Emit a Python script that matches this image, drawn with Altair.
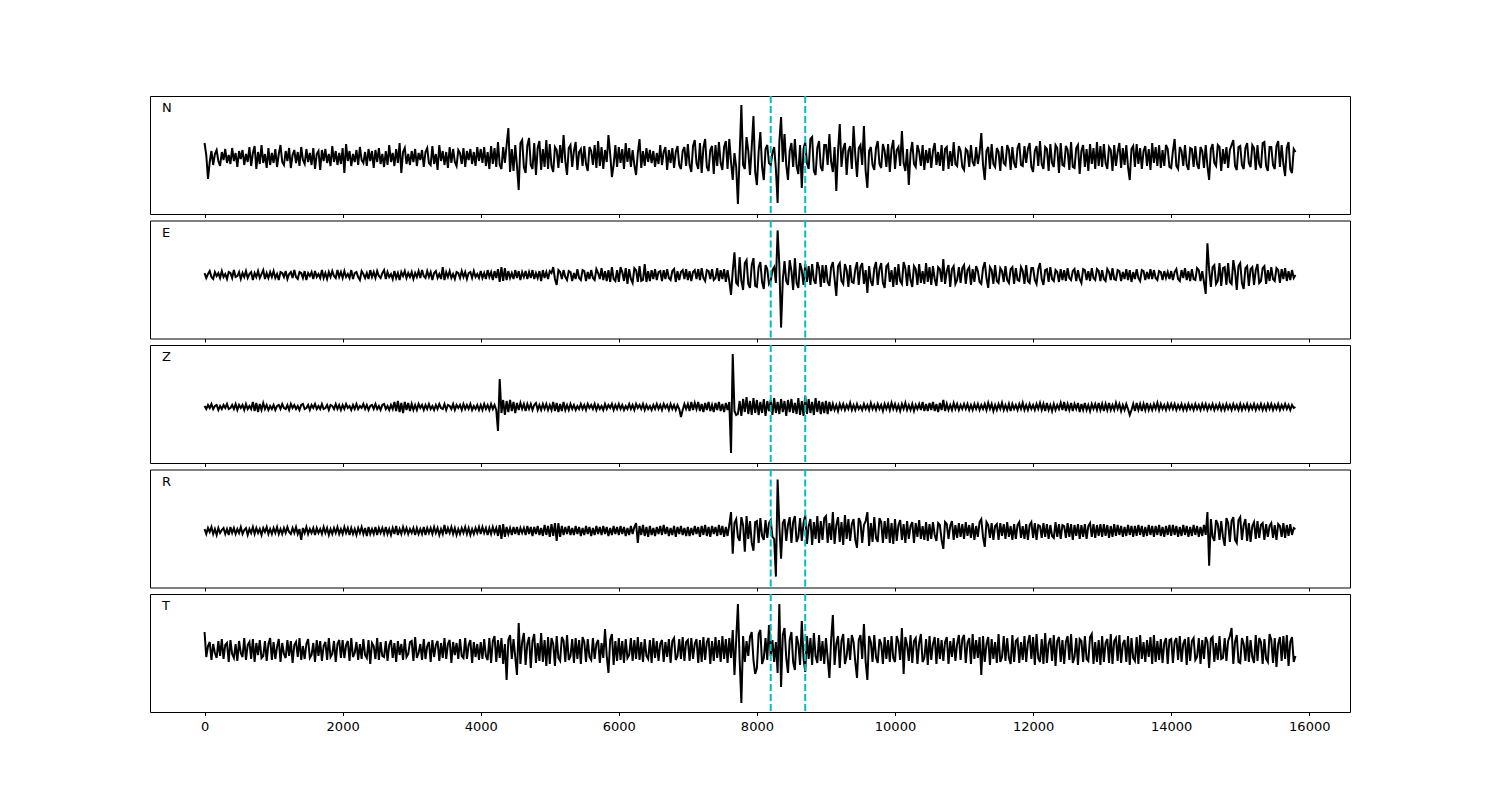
import altair as alt
import pandas as pd

STEP = 25  # sample spacing (in x units) of the listed values; each row covers 1000 units

N_ROWS = [
    [14, 2, -22, -5, 6, -8, 3, 7, -4, -9, 5, -3, 8, -6, 2, -7, 9, -4, 4, -10, 6, -2, 7, -8, 3, -5, 10, -9, 4, 11, -12, 5, -7, 12, -6, 3, -11, 9, -8, 4],
    [-6, 8, -10, 3, 12, -5, -8, 6, -4, 9, -11, 2, 7, -6, 5, -9, 10, -3, -7, 8, -5, 4, -8, 9, -12, 3, 6, -13, 7, -4, 8, -6, 3, -9, 11, -5, 6, -8, 4, -7],
    [9, -16, 13, -4, 6, -9, 3, -5, 7, -8, 10, -3, -6, 5, -9, 8, -4, 6, -11, 7, -5, 9, -7, 3, -10, 6, -8, 12, -5, 4, -9, 8, -6, 14, -16, 5, 9, -7, 3, -8],
    [6, -5, 8, -9, 4, -3, 7, -10, 5, 9, -6, -8, 11, -7, 3, -13, 12, -4, 6, -8, 5, -11, 10, -6, 8, -5, -9, 7, 4, -7, 9, -10, 6, -3, 8, -7, 5, -9, 10, -4],
    [8, -6, 10, -9, 5, -12, 11, -7, 9, -10, 15, -8, -12, 10, -6, 12, 29, -15, 8, -14, 12, -9, -33, 14, 17, -10, -16, 11, 19, -8, -12, 14, -18, 9, 16, -13, 8, -10, 17, -12],
    [13, -9, -15, 10, 7, -11, 12, -6, 22, -4, -18, 9, 12, -10, 6, 15, -13, 5, 8, -9, 11, -7, -14, 10, 6, -8, 12, -11, 16, -9, 10, -12, 7, -5, 22, 3, -20, -8, 12, -10],
    [10, -6, 8, -12, 14, -5, 9, -10, 7, -8, -18, 4, 18, -11, 6, -9, 9, -5, 7, -6, 6, -10, 4, -7, 12, -8, 5, 10, -13, 7, -6, 9, -11, 5, 11, -8, -12, 6, 10, -9],
    [13, -8, -15, 11, 17, -6, -12, 14, -16, 9, 18, -10, -14, 7, 11, -17, 12, -9, 15, -6, -13, 10, 16, -12, 18, -5, -23, 4, -10, -47, 2, 52, -8, -12, 20, 6, -18, 10, 41, -15],
    [-28, 5, 25, -10, -23, 8, 12, -6, -8, 4, 10, -12, -46, 15, 40, -5, 23, -8, -23, 6, 14, -10, 18, -9, -17, 12, -31, 8, 15, -6, -12, 18, 20, -14, -18, 9, 16, -10, -14, 12],
    [12, -8, 23, -5, -15, 10, -34, 6, 33, -10, 8, 14, -18, 6, 11, -12, 31, 2, -20, 9, 12, -8, 31, -14, -31, 6, 10, -8, -13, 9, 16, -7, -11, 13, 6, -10, 13, -15, 8, 17],
    [-12, 7, 10, -9, 26, -6, -14, 8, -28, 4, 15, -7, -10, 12, 5, -9, 12, -13, 7, -6, 9, -11, 6, 14, -8, 5, -9, 12, -14, 8, 10, -12, 6, -9, 15, -7, -9, 11, 6, -10],
    [-13, 8, 6, -10, 12, -5, -9, 10, -7, 4, 24, -8, -23, 6, 10, -12, 13, -7, -10, 9, 5, -14, 11, -6, -8, 12, 7, -13, 10, -6, -11, 9, 14, -8, -9, 11, -6, 8, 14, -10],
    [-15, 6, 11, -9, 16, -7, -12, 10, 8, -14, 13, -6, -10, 12, 9, -16, 14, -8, -9, 11, 7, -13, 15, -10, -11, 9, 12, -17, 6, 12, -10, 8, -14, 13, -7, 9, -12, 15, -9, 11],
    [-10, 13, -6, -12, 10, 7, -14, 12, -9, 5, 14, -11, 9, -8, 12, -10, -23, 8, 11, -10, 13, -7, 9, -12, 6, 11, -9, 8, -13, 14, -6, 10, -9, 12, -11, 7, -9, 12, 8, -10],
    [-11, 6, 18, -9, -12, 10, 6, -9, 12, -8, -13, 9, 8, -10, 11, -7, -12, 10, 6, -11, 12, -9, -23, 8, 13, -6, -9, 12, 10, -14, 8, -7, 10, -11, 7, 12, 17, -9, -13, 10],
    [11, -8, -12, 9, 14, -6, -10, 12, 9, -13, 12, -7, -11, 14, 15, -9, -14, 10, 10, -8, -12, 11, 16, -10, 12, -7, -19, 9, 15, -12, -16, 8, 5],
]

E_ROWS = [
    [2, -3, 1, 4, -2, -4, 3, -1, 2, -3, 4, -2, 1, -4, 3, 2, -3, 5, -2, -1, 3, -4, 2, -2, 4, -3, 1, 3, -5, 2, -2, 4, -3, 1, 5, -4, 2, -3, 3, -2],
    [4, -3, 1, -5, 3, 2, -2, 4, -4, 1, 3, -3, 5, -2, -4, 3, 2, -3, 4, -5, 2, -1, 3, -4, 4, -2, 1, -3, 5, -3, 2, -4, 3, -2, 4, -1, -3, 5, -2, 3],
    [-3, 4, -2, 1, -3, 5, -4, 2, 3, -2, -5, 4, 1, -3, 2, -4, 5, -2, 3, -3, 4, -1, -3, 2, 5, -4, 3, -2, 1, -4, 4, -3, 2, -5, 3, -1, 4, -3, 2, -2],
    [3, -4, 2, -2, 4, -3, 5, -1, -3, 4, -2, 3, -5, 2, 4, -3, 1, -4, 8, -5, 3, -2, 4, -3, 1, -4, 3, 2, -3, 4, -2, 3, -4, 2, 3, -3, 4, -2, 1, -3],
    [4, -3, 2, -4, 5, -2, 3, -5, 4, -3, 6, -7, 8, -6, 7, -5, 4, -3, 2, -4, 5, -3, 4, -5, 3, -2, 4, -4, 3, -3, 5, -4, 2, -3, 4, -6, 5, -3, 3, -4],
    [4, 2, 8, -4, -10, 5, 3, -4, 5, -2, -5, 4, 3, -6, 2, -4, 6, -3, -5, 5, 4, -6, 3, -4, 5, -3, -5, 6, 2, -4, 7, -5, 4, -6, 5, -7, 8, -4, -6, 5],
    [-7, 8, 3, -6, 7, -9, 6, -4, -8, 7, 5, -7, 9, -6, -5, 11, -7, 4, -6, 5, -4, 6, -5, 3, 4, -6, 5, -4, 6, -3, -5, 4, 6, -7, 4, -5, 3, 5, -4, 6],
    [-5, 4, -6, 3, 5, -4, 6, -5, 7, -3, -6, 5, 4, -4, 6, -5, -3, 7, -6, 5, -4, 6, -7, 5, -6, -20, 4, 23, -8, -10, 18, -6, -15, 12, 15, -9, -13, 10, 17, -11],
    [-12, 8, 13, -7, -14, 10, 6, -9, -6, 5, 8, -8, 45, 10, -53, -5, 14, -6, -10, 15, 4, -15, 17, -8, -13, 12, 5, -10, 11, -7, 9, -10, 11, -5, -9, 13, 7, -12, 10, -8],
    [10, -7, -11, 8, 13, -4, -21, 9, 12, -6, -9, 11, 5, -12, 10, -7, -8, 6, 13, -10, 8, 12, -9, 5, -18, 9, -6, -11, 7, 13, -10, 6, 12, -8, -13, 9, 11, -7, 5, -12],
    [8, -10, 11, -6, -9, 13, 7, -11, 10, -5, -12, 9, 6, -10, 11, -8, 4, -9, 12, -7, 8, -10, 9, -4, -11, 8, 6, -7, 16, -9, 4, 10, -12, 6, 9, -9, -5, 8, -8, 7],
    [10, -9, 5, 8, -10, 6, -7, 9, 4, -7, -9, 7, 13, -3, -13, 8, 5, -9, 10, -6, -8, 7, 4, -7, 9, -5, -8, 6, 8, -9, 7, -5, -6, 8, 4, -9, 10, -6, -8, 7],
    [7, -5, -9, 6, 12, -4, -10, 5, 6, -7, 8, -4, -6, 5, 3, -7, 6, -5, 5, -6, 7, -3, -5, 4, 6, -6, 5, -4, -8, 6, 5, -5, 4, -6, 7, -3, -5, 6, 4, -6],
    [5, -4, -6, 6, 3, -5, 7, -4, -5, 5, 4, -6, 3, -4, 6, -5, 5, -7, 3, -4, 6, -3, -6, 5, 4, -5, 3, -4, 6, -4, 5, -3, -5, 4, 3, -5, 4, -3, 3, -4],
    [4, -5, 3, 6, -4, -6, 5, -3, 7, -5, 4, -6, 6, -4, -5, 7, 5, -6, 4, -7, -19, 32, 5, -12, 8, 10, -9, -6, 12, -11, 7, 8, -10, 12, -7, -9, 15, 4, -15, 9],
    [12, -8, -14, 7, 9, -11, 6, 8, -10, 5, 11, -8, -6, 7, 9, -9, 5, -6, 8, -4, -6, 7, 5, -8, 6, -4, 7, -6, 4, -5, 5, -3, 0],
]

Z_ROWS = [
    [1, -2, 2, -1, 3, -2, 1, 2, -3, 1, -2, 2, -1, 3, -2, -1, 2, -2, 3, -3, 2, -1, 2, -3, 3, -2, 1, -2, 5, -4, 4, -5, 3, -3, 4, -2, 2, -3, 1, -2],
    [2, -3, 1, 2, -2, 3, -1, -2, 2, -3, 3, -1, 2, -2, 1, -3, 2, 3, -2, -1, 2, -3, 2, -1, 3, -2, 1, -2, 3, -2, -1, 2, -3, 2, 1, -2, 3, -2, 2, -3],
    [2, -2, 3, -1, 1, -3, 2, -2, 3, -2, 1, -1, 3, -2, 2, -3, 1, 2, -2, 3, -2, 1, -3, 2, 3, -2, 1, -3, 2, -2, 5, -4, 6, -5, 4, -6, 5, -3, 4, -4],
    [3, -3, 2, -3, 3, -1, 2, -3, 2, -2, 3, -2, 1, -3, 2, -2, 3, -1, -2, 3, -3, 2, 1, -2, 3, -3, 2, -1, 2, -3, 3, -2, 2, -2, 3, -3, 1, -2, 2, -3],
    [2, -3, 3, -2, 2, -3, 3, -2, 2, -3, -24, 28, -6, 7, -8, 6, -5, 7, -4, 5, -6, 4, -3, 4, -2, 3, -4, 3, -2, 3, -3, 2, 4, -3, 2, -3, 3, -2, 3, -3],
    [2, -3, 5, -4, 4, -5, 3, -4, 5, -3, 2, -3, 3, -2, 2, -3, 1, -2, 3, -2, 2, -3, 3, -1, 2, -2, 3, -3, 2, -2, 1, -3, 3, -2, 2, -1, 3, -3, 2, -2],
    [3, -2, 2, -3, 1, -2, 3, -2, 2, -3, 3, -1, 2, -2, 3, -3, 2, -2, 1, -3, 2, -2, 3, -2, 2, -3, 3, -1, 2, -3, 3, -2, 2, -3, 2, -2, -10, -3, 3, -2],
    [3, -4, 5, -3, 4, -2, 5, -4, 3, -5, 4, -3, 5, -4, 2, -5, 4, -3, 5, -4, 3, -5, 4, -3, 5, -46, 53, -4, -8, -7, 6, -9, 8, -5, 10, -7, 6, -8, 9, -6],
    [7, -8, 5, -6, 8, -9, 6, -4, 7, -8, 9, -6, 5, -7, 8, -5, 6, -9, 7, -5, 8, -6, 4, -7, 9, -8, 6, -9, 11, -7, 8, -6, 5, -8, 9, -5, 6, -7, 5, -6],
    [6, -7, 5, -4, 3, -3, 2, -4, 3, -2, 3, -3, 2, -2, 4, -3, 2, -3, 3, -2, 1, -3, 3, -2, 2, -3, 4, -2, 2, -3, 3, -2, 2, -4, 3, -2, 3, -3, 4, -2],
    [3, -3, 2, -4, 3, -2, 4, -3, 2, -3, 3, -4, 2, -2, 3, -3, 5, -4, 3, -4, 4, -3, 5, -4, 3, -5, 4, -3, 7, -4, 3, -3, 2, -3, 4, -2, 3, -3, 2, -2],
    [3, -2, 3, -3, 2, -3, 3, -2, 3, -3, 2, -2, 3, -3, 4, -2, 3, -4, 2, -3, 3, -2, 4, -3, 2, -3, 3, -4, 3, -2, 2, -3, 3, -2, 4, -3, 2, -3, 3, -2],
    [2, -3, 3, -2, 4, -3, 3, -4, 4, -3, 2, -4, 3, -3, 2, -2, 4, -3, 5, -4, 3, -3, 4, -4, 3, -2, 4, -5, 3, -3, 4, -3, 2, -4, 3, -2, 3, -3, 4, -3],
    [3, -4, 3, -3, 4, -3, 2, -3, 4, -2, 3, -4, 2, -3, 3, -2, -8, -3, 3, -4, 4, -3, 3, -4, 3, -3, 4, -3, 2, -3, 3, -2, 4, -3, 3, -2, 2, -3, 3, -2],
    [3, -2, 3, -3, 2, -2, 3, -3, 2, -3, 3, -2, 2, -3, 3, -2, 2, -3, 3, -2, 3, -3, 2, -2, 3, -3, 2, -2, 3, -3, 2, -3, 3, -2, 2, -3, 3, -2, 2, -3],
    [3, -3, 2, -2, 3, -3, 2, -2, 3, -3, 2, -2, 3, -3, 2, -3, 3, -2, 3, -3, 2, -2, 3, -3, 2, -2, 3, -2, 2, -3, 2, -1, 0],
]

R_ROWS = [
    [2, -3, 3, -1, 4, -3, 2, -4, 3, -2, 1, 3, -3, 2, -4, 4, -2, 3, -3, 2, -2, 4, -3, 1, 3, -4, 2, -2, 4, -3, 3, -2, 2, -4, 3, -1, 4, -3, 2, -3],
    [3, -2, 4, -3, 2, -3, 3, -2, 4, -1, -3, 3, -2, 4, -3, 2, -9, 3, -2, 4, -3, 2, -2, 3, -4, 3, -2, 2, -3, 4, -2, 3, -4, 2, -3, 3, -2, 4, -3, 2],
    [-3, 4, -2, 3, -4, 3, -3, 2, -4, 3, -2, 4, -3, 3, -5, 4, -3, 2, -3, 4, -4, 3, -2, 3, -3, 4, -3, 2, -4, 3, -3, 5, -4, 2, -3, 4, -2, 3, -3, 2],
    [-2, 3, -4, 3, -3, 2, -3, 4, -4, 3, -2, 3, -3, 4, -2, 3, -4, 2, -3, 6, -3, 3, -2, 4, -3, 3, -4, 2, -3, 3, -2, 4, -3, 3, -4, 2, -3, 3, -2, 4],
    [-3, 4, -2, 3, -4, 3, -3, 4, -2, 3, -5, 6, -8, 7, -6, 4, -3, 3, -4, 4, -3, 4, -4, 3, -2, 3, -4, 5, -3, 4, -5, 4, -3, 5, -4, 3, -5, 6, -4, 5],
    [-6, 7, -5, 8, -10, 8, -6, 5, -4, 4, -3, 5, -4, 3, -4, 5, -3, 4, -5, 3, -4, 5, -3, 4, -5, 3, -4, 5, -3, 4, -4, 5, -3, 4, -5, 3, -4, 5, -3, 4],
    [-4, 5, -3, 4, -5, 3, -4, 5, -3, 4, 8, -12, 5, -4, 6, -5, 4, -6, 5, -4, 3, -5, 4, -3, 5, -4, 6, -3, 4, -5, 3, -4, 5, -6, 4, -3, 5, -4, 3, -5],
    [4, -5, 3, -4, 5, -3, 4, -6, 5, -4, 6, -5, 4, -6, 5, -3, 4, -5, 6, -4, 5, -6, 4, -5, 6, 19, -23, 8, 12, -6, -10, 14, 6, -21, 15, -8, 10, -12, -20, 9],
    [10, -12, 13, -5, -9, 11, -7, 8, 11, -6, -8, -46, 52, 5, -28, 8, 12, -10, 6, 14, -12, 9, 15, -11, -6, 13, -10, 8, 16, -13, 5, 12, -14, 9, -8, 15, -12, 10, -9, 13],
    [15, -12, 8, -9, 19, -13, 6, 14, -11, 9, -14, 16, -8, 12, -10, 7, 12, -9, -17, 13, 9, -12, 6, 10, 19, -15, 8, -11, 14, -7, -11, 13, 9, -12, 10, -8, 13, -12, 8, -13],
    [12, -10, 6, 11, -9, 7, -12, 10, -8, 5, 9, -12, 8, -6, 11, -8, 5, -9, 9, -10, 7, -8, 9, -4, -10, 8, 6, -9, -18, 9, 7, -8, 5, 10, -9, 6, -7, 8, -6, 7],
    [-8, 9, -5, 6, -7, 8, -9, 5, -6, 9, 12, -6, -16, 9, 6, -7, 8, -9, 5, 7, -9, 8, -5, 7, -8, 9, -6, 5, -9, 7, -8, 6, 9, -7, 5, -8, 7, -9, 6, 9],
    [-7, 8, -9, 6, 5, -7, 8, -6, 7, -8, 6, -5, -7, 9, -6, 7, -8, 6, 5, -7, 8, -6, 7, -9, 6, -5, 7, -8, 6, -6, 7, -8, 5, 8, -6, 7, -7, 6, -5, 7],
    [-6, 7, -5, 6, -7, 5, -6, 7, -5, 6, -4, 5, -6, 4, -5, 6, -4, 5, -6, 5, -5, 6, -4, 5, -6, 4, -5, 6, -4, 5, -6, 5, -4, 6, -5, 4, -6, 5, -4, 6],
    [-5, 6, -4, 5, -6, 4, -5, 6, -4, 5, -6, 4, -5, 6, -4, 5, -6, 4, -5, 6, -4, 19, -35, 12, -6, -10, 11, 7, -9, 10, -6, -15, 13, 8, -11, 10, 14, -9, -12, 11],
    [14, -9, 6, 12, -10, 8, -11, 5, 9, -8, 10, -7, 6, 8, -9, 7, -6, 5, 8, -7, 6, -9, 7, 5, -6, 8, -7, 6, -5, 7, -4, 3, 2],
]

T_ROWS = [
    [18, -7, 4, 8, -10, 6, -3, -8, 9, -6, 11, -9, 5, 7, -12, 10, -4, -8, 6, -11, 9, -3, -7, 12, -10, 5, 8, -9, 11, -12, 7, -5, 10, -8, -6, 9, -11, 6, 12, -10],
    [8, -9, 3, 11, -12, 7, -4, -8, 10, -6, 9, -13, 5, 8, -7, 12, -10, 4, -9, 6, 11, -8, -5, 7, -12, 10, -6, 9, -11, 4, 8, -10, 12, -7, -4, 9, -12, 6, 10, -8],
    [10, -8, 5, 9, -11, 12, -7, -3, 8, -10, 6, -9, 11, -5, -8, 10, -14, 7, 4, -9, 12, -10, 8, -6, -7, 9, -11, 5, 10, -8, 7, -12, 9, -5, 6, -10, 11, -7, -4, 8],
    [9, -11, 13, -8, -3, 6, -10, 11, -9, 4, 8, -12, 10, -7, 5, 9, -11, 7, -8, 12, -9, 6, 10, -13, 8, -5, 7, -9, 11, -6, -8, 12, -9, 5, 10, -13, 8, -7, 6, -10],
    [8, -9, 11, -6, -10, 12, -13, 9, 14, -12, 10, -8, 12, -14, 6, -30, 10, 15, -9, 11, -7, -25, 27, -14, 8, 17, -15, 6, 13, -18, 9, 16, -13, 7, -11, 17, -12, 10, -16, 13],
    [-14, 12, 6, -16, 14, -8, -11, 13, 9, -12, 15, -10, -6, 11, -13, 12, -9, 10, -14, 13, 8, -12, 11, -7, -10, 12, -9, 6, 10, -13, 7, -8, 21, -6, -23, 10, 16, -15, 9, -11],
    [12, -10, 9, -13, 11, -8, -5, 12, -11, 10, -9, 13, -10, 8, -12, 11, -6, -9, 10, -13, 12, -8, 9, -11, 6, 10, -12, 8, -7, 11, -13, 9, 12, -10, -6, 11, -9, 13, -11, 8],
    [10, -11, 12, -9, 6, 11, -13, 10, -12, 13, -10, 8, 12, -14, 9, -11, 13, -8, 10, -12, 14, -9, 11, -13, 12, -8, 20, -25, 10, 46, -10, -53, 14, -12, 9, -6, 13, 18, -10, -24],
    [-18, 16, 20, -14, -8, 12, -10, 25, -6, 10, -12, 8, -23, 46, -37, 15, 22, -8, -23, 10, 18, -12, -20, 14, 6, -15, 29, -8, -22, 14, -9, 12, -15, 17, -6, -13, 15, -11, 9, -14],
    [12, -8, -28, 10, 35, -15, 6, 14, -18, 9, 16, -14, -6, 12, -10, 15, 8, -12, -28, 10, 15, -9, 26, -12, -30, 14, 8, -12, 15, -7, -13, 11, 6, -14, 13, -9, 10, -12, 14, -8],
    [-12, 14, 8, -10, 22, -24, 13, 5, -11, 15, -13, 9, 12, -14, 7, 16, -12, -8, 11, -15, 14, -10, 6, 13, -14, 12, -9, 10, -11, 8, 13, -14, 9, -7, 12, -11, 6, 15, -10, 11],
    [15, -13, 7, 12, -14, 16, -9, 10, -8, 13, -25, 14, -12, 6, 13, -15, 11, -9, 8, -13, 16, -12, -7, 14, -11, 12, -8, -14, 15, -12, 9, 11, -13, 8, -10, 14, -12, 7, 15, -9],
    [13, -15, 16, -8, -12, 11, -14, 17, -13, 6, 12, -11, 15, -16, 9, 13, -12, 10, -14, 8, 14, -10, 16, -13, -7, 12, -15, 11, 9, -12, 14, -9, -11, 13, 16, -14, 8, -12, 10, -15],
    [14, -12, 7, 11, -13, 16, -14, 9, 12, -11, 15, -13, 6, 10, -12, 14, -15, 12, -8, -11, 13, -14, 15, -9, 8, -12, 10, -7, 13, -14, 15, -12, 9, -10, 11, -13, 7, 12, -14, 10],
    [11, -13, 8, 12, -10, 14, -12, 6, 11, -15, 13, -11, 9, 12, -10, -7, 12, -14, 10, -9, 13, 8, -18, 11, 13, -12, 7, -10, 14, -9, -8, 12, -11, 9, 14, 22, -14, 8, 15, -12],
    [-13, 12, 6, -11, 14, -12, 10, -7, -13, 15, -11, 12, 8, -14, 11, -9, -12, 16, 10, -13, 12, -17, 6, 13, -11, 14, -9, 15, -16, 8, 13, -12, -6],
]

COMPONENTS = ["N", "E", "Z", "R", "T"]
TRACE_ROWS = [N_ROWS, E_ROWS, Z_ROWS, R_ROWS, T_ROWS]
PICKS = [8200, 8700]
X_TICKS = [0, 2000, 4000, 6000, 8000, 10000, 12000, 14000, 16000]

for name, rows in zip(COMPONENTS, TRACE_ROWS):
    for r, row in enumerate(rows):
        want = 33 if r == len(rows) - 1 else 40
        assert len(row) == want, (name, r, len(row))

# per-panel vertical window (below, above the trace baseline)
Y_WINDOWS = [(-57, 61), (-64, 55), (-56, 62), (-57, 62), (-62, 56)]

X_DOMAIN = [-790, 16590]
W, H = 1200, 118

panels = []
for k, (name, rows) in enumerate(zip(COMPONENTS, TRACE_ROWS)):
    vals = [v for row in rows for v in row]
    bottom = k == len(COMPONENTS) - 1
    df = pd.DataFrame({"t": [i * STEP for i in range(len(vals))], "v": vals})
    xaxis = alt.Axis(
        values=X_TICKS, labels=bottom, title=None, grid=False, domain=False,
        ticks=True, tickSize=3.5, tickColor="black", tickWidth=1,
        labelFontSize=13, labelColor="black", labelFont="DejaVu Sans",
        labelPadding=5, format="d",
    )
    xs = alt.Scale(domain=X_DOMAIN, nice=False, zero=False)
    ys = alt.Scale(domain=list(Y_WINDOWS[k]), nice=False, zero=False)
    line = alt.Chart(df).mark_line(color="black", strokeWidth=2, clip=True).encode(
        x=alt.X("t:Q", scale=xs, axis=xaxis),
        y=alt.Y("v:Q", scale=ys, axis=None),
    )
    rules = alt.Chart(pd.DataFrame({"p": PICKS})).mark_rule(
        color="#00bfbf", strokeWidth=2, strokeDash=[7, 3]
    ).encode(x=alt.X("p:Q", scale=xs, axis=xaxis))
    label = alt.Chart(pd.DataFrame({"c": [name]})).mark_text(
        align="left", baseline="middle", fontSize=13, font="DejaVu Sans", color="black"
    ).encode(text="c:N", x=alt.value(12), y=alt.value(12))
    panels.append(alt.layer(line, rules, label).properties(width=W, height=H))

chart = alt.vconcat(*panels, spacing=6.5, bounds="flush").resolve_scale(
    y="independent"
).properties(
    padding={"left": 141, "top": 86, "right": 10, "bottom": 10}
).configure(background="white").configure_view(stroke="black", strokeWidth=1)

chart.save("out.html", embed_options={"renderer": "svg", "actions": False})
